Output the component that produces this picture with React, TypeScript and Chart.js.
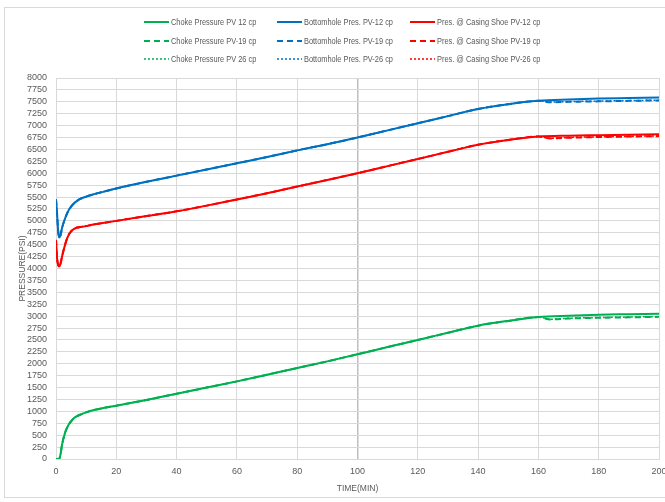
import React, { useEffect, useRef } from "react";
import { Chart, registerables } from "chart.js";

Chart.register(...registerables);

// time (min)
const TIME = [0, 0.3, 0.7, 1, 1.5, 2, 3, 4, 5, 6, 7, 8, 10, 12, 15, 20, 30, 40, 50, 60, 70, 80, 90, 100, 110, 120, 130, 140, 150, 160, 170, 180, 190, 200];
const TIME_ALT = [0, 0.3, 0.7, 1, 1.5, 2, 3, 4, 5, 6, 7, 8, 10, 12, 15, 20, 30, 40, 50, 60, 70, 80, 90, 100, 110, 120, 130, 140, 150, 160, 164, 170, 180, 190, 200];

const CHOKE_12 = [0, 0, 0, 0, 100, 300, 550, 700, 790, 860, 900, 930, 980, 1020, 1060, 1120, 1240, 1370, 1500, 1630, 1770, 1910, 2050, 2200, 2350, 2500, 2650, 2800, 2900, 2980, 3010, 3030, 3040, 3050];
const BH_12 = [5450, 5200, 4800, 4650, 4700, 4850, 5050, 5200, 5300, 5370, 5420, 5460, 5510, 5550, 5600, 5680, 5820, 5950, 6080, 6210, 6340, 6480, 6610, 6750, 6900, 7050, 7200, 7350, 7450, 7520, 7550, 7570, 7580, 7590];
const SHOE_12 = [4600, 4250, 4080, 4040, 4100, 4250, 4500, 4680, 4780, 4830, 4860, 4870, 4890, 4920, 4950, 5000, 5100, 5200, 5320, 5450, 5580, 5720, 5860, 6000, 6150, 6300, 6450, 6600, 6700, 6770, 6790, 6800, 6810, 6820];

const CHOKE_19 = [0, 0, 0, 0, 100, 300, 550, 700, 790, 860, 900, 930, 980, 1020, 1060, 1120, 1240, 1370, 1500, 1630, 1770, 1910, 2050, 2200, 2350, 2500, 2650, 2800, 2900, 2980, 2930, 2950, 2965, 2975, 2985];
const BH_19 = [5450, 5200, 4800, 4650, 4700, 4850, 5050, 5200, 5300, 5370, 5420, 5460, 5510, 5550, 5600, 5680, 5820, 5950, 6080, 6210, 6340, 6480, 6610, 6750, 6900, 7050, 7200, 7350, 7450, 7520, 7490, 7500, 7510, 7520, 7530];
const SHOE_19 = [4600, 4250, 4080, 4040, 4100, 4250, 4500, 4680, 4780, 4830, 4860, 4870, 4890, 4920, 4950, 5000, 5100, 5200, 5320, 5450, 5580, 5720, 5860, 6000, 6150, 6300, 6450, 6600, 6700, 6770, 6730, 6745, 6760, 6770, 6780];

const CHOKE_26 = [0, 0, 0, 0, 100, 300, 550, 700, 790, 860, 900, 930, 980, 1020, 1060, 1120, 1240, 1370, 1500, 1630, 1770, 1910, 2050, 2200, 2350, 2500, 2650, 2800, 2900, 2980, 2935, 2955, 2970, 2980, 2990];
const BH_26 = [5450, 5200, 4800, 4650, 4700, 4850, 5050, 5200, 5300, 5370, 5420, 5460, 5510, 5550, 5600, 5680, 5820, 5950, 6080, 6210, 6340, 6480, 6610, 6750, 6900, 7050, 7200, 7350, 7450, 7520, 7495, 7505, 7515, 7525, 7535];
const SHOE_26 = [4600, 4250, 4080, 4040, 4100, 4250, 4500, 4680, 4780, 4830, 4860, 4870, 4890, 4920, 4950, 5000, 5100, 5200, 5320, 5450, 5580, 5720, 5860, 6000, 6150, 6300, 6450, 6600, 6700, 6770, 6735, 6750, 6765, 6775, 6785];

const LABELS = [
  "Choke Pressure PV 12 cp", "Bottomhole Pres. PV-12 cp", "Pres. @ Casing Shoe PV-12 cp",
  "Choke Pressure PV-19 cp", "Bottomhole Pres. PV-19 cp", "Pres. @ Casing Shoe PV-19 cp",
  "Choke Pressure PV 26 cp", "Bottomhole Pres. PV-26 cp", "Pres. @ Casing Shoe PV-26 cp",
];

const GREEN = "#00b050";
const BLUE = "#0070c0";
const RED = "#ff0000";
const DASH = [6, 4];
const DOT = [2, 2];
const FONT = "'Liberation Sans', Arial, sans-serif";
const TEXT = "#595959";

function pts(xs: number[], ys: number[]) {
  return ys.map((y, i) => ({ x: xs[i], y }));
}

const legendPlugin = {
  id: "gridLegend",
  afterDraw(chart: any) {
    const ctx = chart.ctx;
    const ds = chart.data.datasets;
    const colX = [144, 277, 410];
    const rowY = [22, 41, 59];
    ctx.save();
    ds.forEach((d: any, i: number) => {
      const c = i % 3;
      const r = Math.floor(i / 3);
      const x = colX[c];
      const y = rowY[r];
      ctx.beginPath();
      ctx.strokeStyle = d.borderColor;
      ctx.lineWidth = d.borderWidth;
      ctx.setLineDash(d.borderDash);
      ctx.moveTo(x, y);
      ctx.lineTo(x + 25, y);
      ctx.stroke();
      ctx.setLineDash([]);
      ctx.save();
      ctx.translate(x + 27, y);
      ctx.scale(0.78, 1);
      ctx.font = `9.5px ${FONT}`;
      ctx.textBaseline = "middle";
      ctx.fillStyle = TEXT;
      ctx.fillText(d.label, 0, 0);
      ctx.restore();
    });
    // chart border
    ctx.strokeStyle = "#d9d9d9";
    ctx.lineWidth = 1;
    ctx.strokeRect(4.5, 7.5, 700, 490);
    ctx.restore();
  },
};

export default function App() {
  const ref = useRef<HTMLCanvasElement>(null);
  useEffect(() => {
    if (!ref.current) return;
    const mk = (label: string, xs: number[], ys: number[], color: string, dash: number[]) => ({
      label,
      data: pts(xs, ys),
      borderColor: color,
      backgroundColor: color,
      borderWidth: dash.length && dash[0] < 3 ? 1.5 : 2,
      borderDash: dash,
      pointRadius: 0,
      fill: false,
      cubicInterpolationMode: "monotone" as const,
    });
    const datasets = [
      mk(LABELS[0], TIME, CHOKE_12, GREEN, []),
      mk(LABELS[1], TIME, BH_12, BLUE, []),
      mk(LABELS[2], TIME, SHOE_12, RED, []),
      mk(LABELS[3], TIME_ALT, CHOKE_19, GREEN, DASH),
      mk(LABELS[4], TIME_ALT, BH_19, BLUE, DASH),
      mk(LABELS[5], TIME_ALT, SHOE_19, RED, DASH),
      mk(LABELS[6], TIME_ALT, CHOKE_26, GREEN, DOT),
      mk(LABELS[7], TIME_ALT, BH_26, BLUE, DOT),
      mk(LABELS[8], TIME_ALT, SHOE_26, RED, DOT),
    ];
    const chart = new Chart(ref.current, {
      type: "line",
      data: { datasets },
      options: {
        animation: false,
        responsive: false,
        maintainAspectRatio: false,
        layout: { padding: { top: 78, right: 6, bottom: 0, left: 0 } },
        plugins: { legend: { display: false }, tooltip: { enabled: false } },
        scales: {
          x: {
            type: "linear",
            min: 0,
            max: 200,
            border: { display: true, color: "#d9d9d9" },
            grid: {
              color: (c: any) => (c.tick && c.tick.value === 100 ? "#bfbfbf" : "#d9d9d9"),
              lineWidth: (c: any) => (c.tick && c.tick.value === 100 ? 1.5 : 1),
              drawTicks: false,
            },
            ticks: {
              stepSize: 20,
              padding: 7,
              color: TEXT,
              font: { family: FONT, size: 9 },
              maxRotation: 0,
              callback: (v: any) => String(v),
            },
            title: { display: true, text: "TIME(MIN)", color: TEXT, font: { family: FONT, size: 8.5 }, padding: { top: 0, bottom: 8 } },
            afterFit: (s: any) => {
              s.height = 43;
              s.paddingLeft = 0;
              s.paddingRight = 0;
            },
          },
          y: {
            min: 0,
            max: 8000,
            border: { display: true, color: "#d9d9d9" },
            grid: { color: "#d9d9d9", drawTicks: false },
            ticks: {
              stepSize: 250,
              padding: 9,
              color: TEXT,
              font: { family: FONT, size: 9 },
              autoSkip: false,
              callback: (v: any) => String(v),
            },
            title: { display: true, text: "PRESSURE(PSI)", color: TEXT, font: { family: FONT, size: 8.5 }, padding: { top: 18, bottom: 0 } },
            afterFit: (s: any) => {
              s.width = 56;
              s.paddingTop = 0;
              s.paddingBottom = 0;
            },
          },
        },
      },
      plugins: [legendPlugin],
    });
    return () => chart.destroy();
  }, []);
  return (
    <div style={{ position: "fixed", left: 0, top: 0, width: 665, height: 502, background: "#fff" }}>
      <canvas ref={ref} width={665} height={502} style={{ width: 665, height: 502 }} />
    </div>
  );
}
